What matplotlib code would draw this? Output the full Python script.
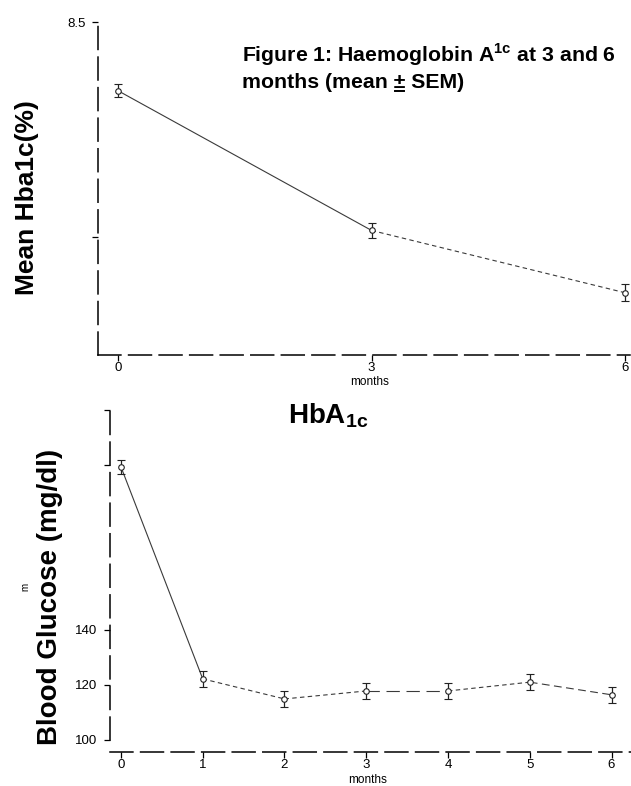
import numpy as np
import matplotlib.pyplot as plt
from matplotlib.lines import Line2D

plt.rcParams['font.family'] = ['Liberation Sans', 'DejaVu Sans']
plt.rcParams['mathtext.fontset'] = 'custom'
plt.rcParams['mathtext.rm'] = 'Liberation Sans'
plt.rcParams['mathtext.bf'] = 'Liberation Sans:bold'

# top panel: HbA1c at 0, 3, 6 months
months_a = [0, 3, 6]
hba1c = [8.18, 7.53, 7.24]
hba1c_sem = [0.03, 0.035, 0.04]

# bottom panel: blood glucose monthly
months_b = [0, 1, 2, 3, 4, 5, 6]
glucose = [199.3, 122.2, 114.9, 117.8, 117.8, 121.0, 116.4]
glucose_sem = [2.5, 3.0, 3.0, 3.0, 3.0, 3.0, 3.0]

W, H = 631, 786
fig = plt.figure(figsize=(W / 100, H / 100), dpi=100)


def px(x, y):
    return x / W, 1 - y / H


def dashed_axes(ax):
    for s in ['top', 'right']:
        ax.spines[s].set_visible(False)
    for s in ['left', 'bottom']:
        ax.spines[s].set_linestyle((0, (15, 5)))
        ax.spines[s].set_linewidth(1.1)
    ax.tick_params(labelsize=9.5, width=0.9, length=4)
    ax.tick_params(axis='x', pad=1)
    ax.tick_params(axis='y', pad=5)


def draw_series(ax, x, y, err, styles):
    for i, ls in enumerate(styles):
        ax.plot(x[i:i + 2], y[i:i + 2], color='#3a3a3a', lw=0.8, ls=ls)
    ax.errorbar(x, y, yerr=err, fmt='o', ms=4, mfc='white', mec='#222222',
                mew=0.8, ecolor='#222222', elinewidth=0.9, capsize=3,
                capthick=0.9, zorder=3)


ax1 = fig.add_axes([98 / W, 1 - 355 / H, (630 - 98) / W, (355 - 20) / H])
dashed_axes(ax1)
ax1.set_xlim(-0.24, 6.06)
ax1.set_ylim(6.95, 8.51)
ax1.set_xticks(months_a)
ax1.set_yticks([7.5, 8.5])
ax1.set_yticklabels(['', '8.5'])
draw_series(ax1, months_a, hba1c, hba1c_sem, ['-', (0, (4, 3))])

ax2 = fig.add_axes([110 / W, 1 - 752 / H, (632 - 110) / W, (752 - 408) / H])
dashed_axes(ax2)
ax2.set_xlim(-0.134, 6.25)
ax2.set_ylim(95.6, 220.7)
ax2.spines['left'].set_bounds(100, 220.7)
ax2.set_xticks(months_b)
ax2.set_yticks([100, 120, 140, 200, 220])
ax2.set_yticklabels(['100', '120', '140', '', ''])
draw_series(ax2, months_b, glucose, glucose_sem,
            ['-', (0, (4, 3)), (0, (4, 3)), (0, (12, 6)), (0, (4, 3)), (0, (7, 4))])

# texts
tsize = 15.3
fig.text(*px(242, 62), 'Figure 1: Haemoglobin A$^{\\mathbf{1c}}$ at 3 and 6',
         fontsize=tsize, fontweight='bold', ha='left', va='baseline')
prefix = fig.text(*px(242, 88), 'months (mean ', fontsize=tsize,
                  fontweight='bold', ha='left', va='baseline')
fig.text(*px(242, 88), 'months (mean \u00b1 SEM)', fontsize=tsize,
         fontweight='bold', ha='left', va='baseline')
renderer = fig.canvas.get_renderer()
bb = prefix.get_window_extent(renderer)
prefix.set_visible(False)
pm = fig.text(0, 0, '\u00b1', fontsize=tsize, fontweight='bold')
pw = pm.get_window_extent(renderer).width
pm.set_visible(False)
x0 = bb.x1 + 1
uy = H - 88 - 3
fig.add_artist(Line2D([x0, x0 + pw - 2], [uy, uy], color='black', lw=1.4,
                      transform=None))

fig.text(*px(288, 423), 'HbA$_{\\mathbf{1c}}$', fontsize=20, fontweight='bold',
         ha='left', va='baseline')
fig.text(*px(27, 198), 'Mean Hba1c(%)', rotation=90, fontsize=19,
         fontweight='bold', ha='center', va='center')
fig.text(*px(50, 597), 'Blood Glucose (mg/dl)', rotation=90, fontsize=20,
         fontweight='bold', ha='center', va='center')
fig.text(*px(370, 382), 'months', fontsize=8.5, ha='center', va='center')
fig.text(*px(368, 780), 'months', fontsize=8.5, ha='center', va='center')
fig.text(*px(25, 587), 'm', rotation=90, fontsize=7, ha='center', va='center')

fig.savefig('out.png', dpi=100)
